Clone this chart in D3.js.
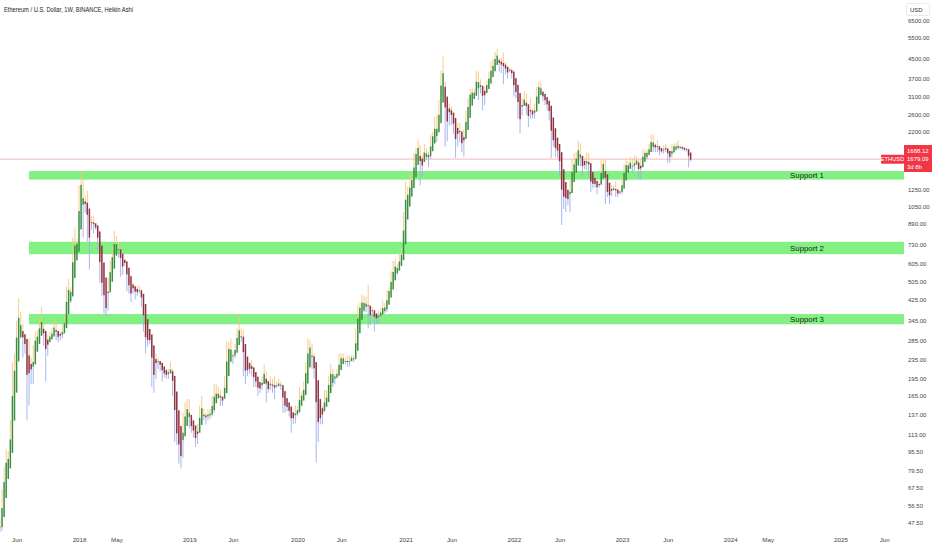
<!DOCTYPE html>
<html>
<head>
<meta charset="utf-8">
<script src="https://cdn.jsdelivr.net/npm/d3@7"></script>
<style>
html, body { margin: 0; padding: 0; background: #fff; }
svg { display: block; font-family: "Liberation Sans Narrow", "Liberation Sans", Arial, sans-serif; }
</style>
</head>
<body>
<svg id="chart" width="932" height="550"></svg>
<script>
// weekly ETH/USD bars, one row per week: [close, high, low]
// open of each week = close of the week before
const firstWeek = "2017-04-10";
const firstOpen = 43;

const eth2017 = [
  [48,50,42],[62,66,44],[80,82,60],[88,98,77],[89,96,83],[124,130,88],[180,230,125],[245,250,170],
  [340,345,240],[350,430,300],[305,375,290],[290,335,240],
  [258,300,250],[155,268,130],[230,290,150],[200,240,185],[265,270,185],
  [295,310,265],[295,315,275],[345,350,290],[315,395,305],
  [295,340,270],[255,305,190],[290,300,245],[300,310,280],
  [310,320,285],[335,350,295],[295,345,285],[297,305,280],[300,310,285],
  [315,330,290],[355,370,305],[470,480,355],[465,520,410],
  [475,480,410],[720,780,470],[760,860,540],[740,770,660]
];
const eth2018 = [
  [1250,1300,750],[1370,1500,1100],[1050,1380,780],[1110,1180,990],[800,1230,750],
  [860,880,570],[940,960,840],[840,960,810],[860,890,840],
  [700,870,680],[530,720,500],[470,560,440],[380,550,370],
  [400,420,360],[500,530,380],[600,620,500],[660,710,600],[790,830,650],
  [690,790,650],[715,740,640],[580,720,530],[600,625,540],
  [610,630,590],[495,605,460],[460,545,450],[455,470,415],
  [490,500,450],[435,485,425],[465,485,440],[460,485,450],[405,470,395],
  [320,420,310],[295,310,250],[280,300,268],[285,300,275],
  [195,300,180],[220,225,170],[245,250,195],[230,240,215],
  [225,230,210],[205,230,190],[205,215,198],[200,210,195],[210,215,195],
  [210,230,205],[175,215,165],[115,180,105],[115,125,102],
  [90,120,85],[95,100,81],[135,140,90],[135,155,115],[155,160,130]
];
const eth2019 = [
  [125,160,120],[120,130,115],[115,125,110],[107,115,100],
  [120,125,103],[145,150,118],[140,165,135],[135,145,130],
  [135,140,125],[140,145,130],[138,145,132],[160,165,135],
  [170,185,140],[165,185,155],[170,180,160],[155,175,150],[160,165,150],
  [195,200,160],[260,280,190],[270,280,235],[250,290,230],
  [250,255,225],[270,275,240],[310,320,265],[295,370,280],
  [290,320,280],[210,315,200],[220,230,185],[205,225,200],[220,230,205],
  [205,235,200],[195,215,180],[185,200,180],[175,190,165],
  [180,185,170],[195,200,175],[210,225,190],[170,210,155],[180,185,170],
  [190,200,175],[175,195,170],[180,200,160],[185,190,178],
  [185,195,180],[180,190,175],[150,180,140],[150,160,140],
  [145,155,142],[140,150,135],[130,145,115],[135,140,125],[145,150,126]
];
const eth2020 = [
  [145,150,135],[170,180,140],[165,172,155],[185,190,160],
  [225,230,185],[265,290,220],[270,285,240],[220,275,215],
  [200,250,195],[125,210,86],[130,150,105],[130,145,125],[145,150,125],
  [155,175,145],[170,175,150],[195,200,170],[210,225,190],
  [210,215,180],[200,205,185],[210,215,195],[235,250,200],
  [245,250,225],[235,250,225],[230,240,225],[225,245,220],[240,245,220],
  [240,245,235],[240,245,230],[310,320,235],[390,400,310],
  [395,410,370],[435,445,375],[390,440,375],[430,435,375],[350,490,320],
  [385,390,330],[385,395,360],[355,385,310],[355,365,335],
  [375,380,335],[370,390,360],[405,420,365],[385,410,370],
  [460,465,375],[460,480,445],[550,560,445],[575,620,480],[580,630,560],
  [590,600,540],[640,660,575],[685,700,610],[975,1000,680]
];
const eth2021 = [
  [1230,1350,960],[1230,1280,1000],[1360,1440,1050],[1370,1480,1260],
  [1740,1780,1300],[1790,1870,1660],[1930,2040,1750],[1420,1930,1300],
  [1730,1750,1410],[1790,1950,1700],[1780,1870,1670],[1710,1800,1550],[2080,2140,1680],
  [2140,2200,1990],[2240,2550,2100],[2220,2600,1990],[2950,3000,2200],
  [3920,4000,2950],[3580,4600,3500],[2090,3580,1900],[2710,2900,2000],[2700,2900,2330],
  [2500,2800,2350],[2250,2600,2150],[1980,2250,1700],[2320,2400,1900],
  [2050,2400,1980],[1900,2100,1800],[2200,2250,1720],[2600,2700,2170],
  [3020,3060,2520],[3320,3340,2950],[3230,3350,2980],[3240,3350,3060],[3940,4000,3160],
  [3390,3960,3000],[3400,3670,3200],[2920,3470,2700],[3380,3420,2850],
  [3550,3620,3330],[3850,3950,3450],[4050,4360,3700],[4300,4460,3950],
  [4620,4800,4200],[4560,4950,4400],[4230,4500,3960],[4290,4550,3900],[4120,4780,3500],
  [3960,4360,3850],[3930,4100,3700],[4040,4100,3930],[3760,4100,3700]
];
const eth2022 = [
  [3150,3860,3100],[3350,3420,3050],[2530,3380,2500],[2600,2660,2160],[3020,3050,2580],
  [2880,3280,2850],[2630,3200,2600],[2620,2700,2300],[2560,3040,2500],
  [2580,2750,2500],[2850,2900,2500],[3300,3400,2850],[3520,3580,3200],
  [3220,3560,3150],[3000,3250,2950],[2920,3190,2850],[2830,3030,2700],
  [2520,2960,2450],[2050,2600,1700],[1970,2160,1900],[1800,2010,1720],[1800,2000,1700],
  [1440,1920,1420],[1130,1530,880],[1240,1250,1030],[1070,1280,1000],
  [1160,1240,1070],[1350,1370,1000],[1550,1680,1340],[1680,1780,1370],
  [1700,1800,1560],[1930,2010,1690],[1580,1960,1570],[1550,1720,1420],[1570,1700,1520],
  [1720,1790,1510],[1460,1790,1400],[1300,1400,1220],[1310,1400,1260],
  [1290,1400,1270],[1280,1340,1190],[1310,1345,1270],[1590,1660,1300],[1630,1680,1500],
  [1220,1670,1080],[1200,1290,1160],[1200,1230,1080],[1260,1300,1170],
  [1260,1300,1230],[1185,1350,1160],[1220,1230,1160],[1200,1230,1190]
];
const eth2023 = [
  [1400,1410,1190],[1550,1600,1320],[1600,1680,1500],[1570,1640,1520],[1630,1720,1560],
  [1520,1680,1470],[1690,1740,1500],[1630,1720,1590],[1430,1660,1370],
  [1650,1680,1370],[1810,1860,1550],[1800,1830,1700],[1820,1850,1680],
  [1860,1950,1770],[2100,2140,1840],[1870,2130,1800],[1900,1960,1800],
  [1890,2020,1800],[1800,1900,1740],[1800,1850,1780],[1900,1920,1770],[1860,1950,1800],
  [1740,1890,1620],[1720,1790,1620],[1890,1940,1710],[1950,1960,1820],
  [1870,1970,1820],[1930,2020,1840],[1880,1920,1850],[1860,1880,1830],[1830,1870,1810],
  [1850,1870,1810],[1670,1860,1550],[1679,1690,1640]
];

const supportNames = ["Support 1", "Support 2", "Support 3"];
const supportTop = [1494, 747, 368];
const supportBottom = [1374, 662, 333];

const priceTicks = [6500, 5500, 4500, 3700, 3100, 2600, 2200, 1250, 1050, 890, 730, 605,
  505, 425, 345, 285, 235, 195, 165, 137, 113, 95.5, 79.5, 67.5, 56.5, 47.5];
const timeTicks = ["2017-06-05", "2018-01-01", "2018-05-07", "2019-01-07", "2019-06-03", "2020-01-06",
  "2020-06-01", "2021-01-04", "2021-06-07", "2022-01-03", "2022-06-06", "2023-01-02", "2023-06-05",
  "2024-01-01", "2024-05-06", "2025-01-06", "2025-06-02"];
const timeLabels = ["Jun", "2018", "May", "2019", "Jun", "2020", "Jun", "2021", "Jun", "2022", "Jun",
  "2023", "Jun", "2024", "May", "2025", "Jun"];

const lastClose = 1679.09;
const lastHa = 1688.12;
const timeLeft = "3d 8h";

const svg = d3.select("#chart");
const parse = d3.utcParse("%Y-%m-%d");

const x = d3.scaleUtc()
    .domain([parse("2018-01-01"), parse("2023-01-02")])
    .range([79, 622]);
const y = d3.scaleLog()
    .domain([6500, 47.5])
    .range([21, 523]);

// heikin ashi from the weekly bars
const rows = [].concat(eth2017, eth2018, eth2019, eth2020, eth2021, eth2022, eth2023);
const start = parse(firstWeek);
let candles = [];
let prevClose = firstOpen, haO = null, haC = null;
rows.forEach(function (r, i) {
    const c = r[0], h = r[1], l = r[2], o = prevClose;
    const nc = (o + h + l + c) / 4;
    const no = i === 0 ? (o + c) / 2 : (haO + haC) / 2;
    haO = no; haC = nc;
    candles.push({
        date: d3.utcWeek.offset(start, i),
        open: no, close: nc,
        high: Math.max(h, no, nc), low: Math.min(l, no, nc)
    });
    prevClose = c;
});

svg.append("clipPath").attr("id", "plot")
    .append("rect").attr("x", 0).attr("y", 0).attr("width", 904).attr("height", 532);

// support zones
const bands = svg.append("g");
supportNames.forEach(function (name, i) {
    bands.append("rect")
        .attr("x", 29).attr("width", 875)
        .attr("y", y(supportTop[i]))
        .attr("height", y(supportBottom[i]) - y(supportTop[i]))
        .attr("fill", "#82f082");
});

// last price line
svg.append("line")
    .attr("x1", 0).attr("x2", 881)
    .attr("y1", y(lastClose)).attr("y2", y(lastClose))
    .attr("stroke", "#f5a3aa").attr("stroke-width", 0.8);

// candles
const g = svg.append("g").attr("clip-path", "url(#plot)");
const bw = 1.5;
g.selectAll(".uw").data(candles).enter().append("line")
    .attr("x1", d => x(d.date)).attr("x2", d => x(d.date))
    .attr("y1", d => y(d.high)).attr("y2", d => y(Math.max(d.open, d.close)))
    .attr("stroke", "#f9c57c").attr("stroke-width", 0.9);
g.selectAll(".lw").data(candles).enter().append("line")
    .attr("x1", d => x(d.date)).attr("x2", d => x(d.date))
    .attr("y1", d => y(Math.min(d.open, d.close))).attr("y2", d => y(d.low))
    .attr("stroke", "#9fadee").attr("stroke-width", 0.9);
g.selectAll(".body").data(candles).enter().append("rect")
    .attr("x", d => x(d.date) - bw / 2)
    .attr("width", bw)
    .attr("y", d => y(Math.max(d.open, d.close)))
    .attr("height", d => Math.max(0.8, Math.abs(y(d.open) - y(d.close))))
    .attr("fill", d => d.close >= d.open ? "#3b8e40" : "#8c3241");

// support labels
supportNames.forEach(function (name, i) {
    svg.append("text")
        .attr("x", 807)
        .attr("y", (y(supportTop[i]) + y(supportBottom[i])) / 2)
        .attr("dy", "0.35em")
        .attr("text-anchor", "middle")
        .attr("font-size", 7.8)
        .attr("fill", "#1c1c1c")
        .text(name);
});

// price scale
const yAxis = svg.append("g")
    .attr("transform", "translate(904,0)")
    .call(d3.axisRight(y).tickValues(priceTicks).tickFormat(d3.format(".2f")).tickSize(0).tickPadding(4));
yAxis.select(".domain").remove();
yAxis.selectAll("text").attr("font-size", 6).attr("fill", "#444").attr("font-family", null);

// time scale
const xAxis = svg.append("g")
    .attr("transform", "translate(0,536)")
    .call(d3.axisBottom(x).tickValues(timeTicks.map(parse)).tickFormat((d, i) => timeLabels[i]).tickSize(0).tickPadding(2));
xAxis.select(".domain").remove();
xAxis.selectAll("text").attr("font-size", 6.2).attr("fill", "#444").attr("font-family", null);

// title
svg.append("text")
    .attr("x", 4).attr("y", 12)
    .attr("font-size", 6.6)
    .attr("textLength", 129).attr("lengthAdjust", "spacingAndGlyphs")
    .attr("fill", "#222")
    .text("Ethereum / U.S. Dollar, 1W, BINANCE, Heikin Ashi");

// currency box
svg.append("rect")
    .attr("x", 906.5).attr("y", 3.5).attr("width", 23).attr("height", 12).attr("rx", 2)
    .attr("fill", "#fff").attr("stroke", "#e0e3eb").attr("stroke-width", 0.8);
svg.append("text")
    .attr("x", 910).attr("y", 11.5)
    .attr("font-size", 6).attr("fill", "#333")
    .text("USD");

// last price labels
svg.append("rect")
    .attr("x", 881).attr("y", y(lastClose) - 4.5).attr("width", 23).attr("height", 9).attr("rx", 1)
    .attr("fill", "#f23645");
svg.append("text")
    .attr("x", 892.5).attr("y", y(lastClose))
    .attr("dy", "0.35em").attr("text-anchor", "middle")
    .attr("font-size", 5.8).attr("fill", "#fff")
    .text("ETHUSD");
svg.append("rect")
    .attr("x", 904).attr("y", 145).attr("width", 28).attr("height", 27)
    .attr("fill", "#f23645");
[d3.format(".2f")(lastHa), d3.format(".2f")(lastClose), timeLeft].forEach(function (t, i) {
    svg.append("text")
        .attr("x", 907).attr("y", 151 + i * 8)
        .attr("dy", "0.35em")
        .attr("font-size", 6).attr("fill", "#fff")
        .text(t);
});
</script>
</body>
</html>
